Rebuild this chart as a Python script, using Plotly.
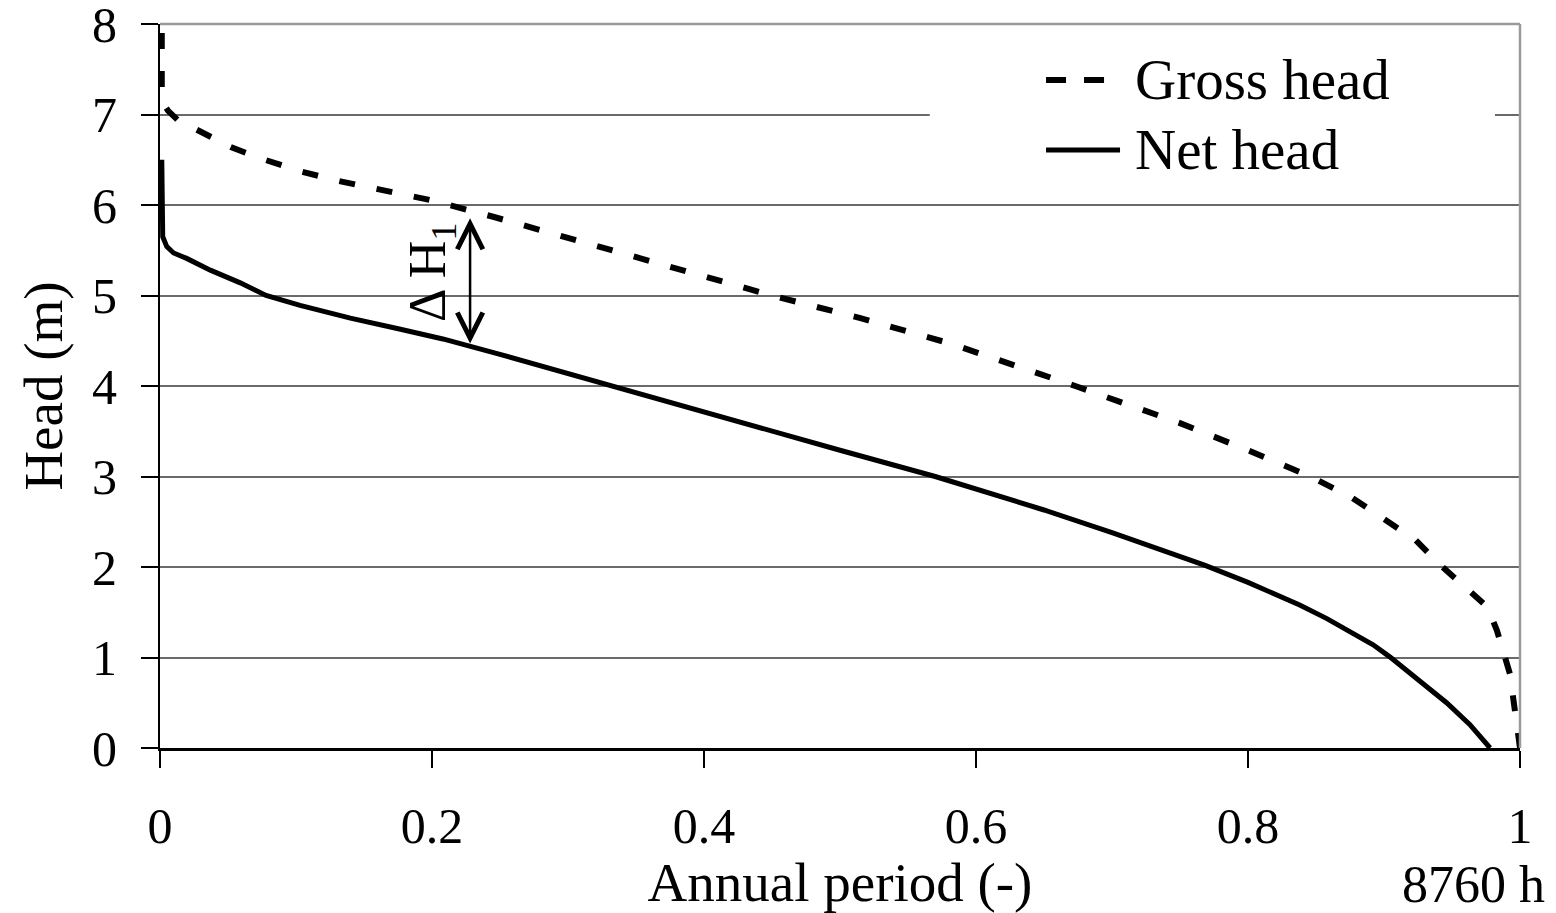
import plotly.graph_objects as go

# ---- data ----
gross_x = [0.0013, 0.0013, 0.0025, 0.006, 0.013, 0.029, 0.043, 0.052, 0.075, 0.104, 0.130,
           0.200, 0.245, 0.324, 0.397, 0.450, 0.515, 0.581, 0.673, 0.750, 0.800, 0.846,
           0.876, 0.899, 0.923, 0.943, 0.960, 0.976, 0.983, 0.988, 0.993, 0.995, 0.997,
           0.999, 1.000]
gross_y = [7.90, 7.30, 7.12, 7.04, 6.94, 6.82, 6.72, 6.64, 6.51, 6.37, 6.27,
           6.05, 5.87, 5.54, 5.23, 5.00, 4.75, 4.47, 4.00, 3.59, 3.29, 3.00,
           2.77, 2.54, 2.30, 2.00, 1.78, 1.56, 1.30, 1.05, 0.80, 0.55, 0.30,
           0.05, 0.00]

net_x = [0.0013, 0.0013, 0.002, 0.005, 0.010, 0.0196, 0.037, 0.059, 0.078, 0.103, 0.140,
         0.176, 0.208, 0.250, 0.290, 0.331, 0.400, 0.449, 0.500, 0.570, 0.600, 0.650,
         0.700, 0.735, 0.768, 0.800, 0.838, 0.858, 0.879, 0.892, 0.904, 0.926, 0.946,
         0.963, 0.978]
net_y = [6.50, 5.90, 5.65, 5.54, 5.47, 5.41, 5.28, 5.14, 5.00, 4.89, 4.75,
         4.63, 4.52, 4.35, 4.18, 4.00, 3.71, 3.50, 3.29, 3.00, 2.86, 2.63,
         2.38, 2.20, 2.02, 1.83, 1.58, 1.43, 1.26, 1.14, 1.01, 0.75, 0.50,
         0.26, 0.00]

x_ticks = [0, 0.2, 0.4, 0.6, 0.8, 1]
x_tick_text = ["0", "0.2", "0.4", "0.6", "0.8", "1"]
y_ticks = [0, 1, 2, 3, 4, 5, 6, 7, 8]

delta_x = 0.228          # position of the ΔH1 arrow
delta_lo, delta_hi = 4.47, 5.87

FONT = "Times New Roman, Liberation Serif, serif"

fig = go.Figure()
fig.add_trace(go.Scatter(x=gross_x, y=gross_y, mode="lines", name="Gross head",
                         line=dict(color="black", width=6, dash="16px,22px"),
                         showlegend=False))
fig.add_trace(go.Scatter(x=net_x, y=net_y, mode="lines", name="Net head",
                         line=dict(color="black", width=5), showlegend=False))

# manual legend (white box hides the grid line, as in the reference)
fig.add_shape(type="rect", xref="paper", yref="paper", x0=0.566, x1=0.9816, y0=0.771, y1=0.978,
              fillcolor="white", line=dict(width=0), layer="above")
fig.add_shape(type="line", xref="paper", yref="paper", x0=0.6515, x1=0.6949, y0=0.9227, y1=0.9227,
              line=dict(color="black", width=6, dash="20px,18px"), layer="above")
fig.add_shape(type="line", xref="paper", yref="paper", x0=0.6515, x1=0.7059, y0=0.826, y1=0.826,
              line=dict(color="black", width=5), layer="above")
fig.add_annotation(xref="paper", yref="paper", x=0.7154, y=0.9227, xanchor="left", yanchor="middle",
                   text="Gross head", showarrow=False, font=dict(family=FONT, size=57, color="black"))
fig.add_annotation(xref="paper", yref="paper", x=0.7154, y=0.826, xanchor="left", yanchor="middle",
                   text="Net head", showarrow=False, font=dict(family=FONT, size=57, color="black"))

# top and right borders (gray)
fig.add_shape(type="line", xref="paper", yref="paper", x0=0, x1=1, y0=1, y1=1,
              line=dict(color="#9a9a9a", width=2.5), layer="above")
fig.add_shape(type="line", xref="paper", yref="paper", x0=1, x1=1, y0=0, y1=1,
              line=dict(color="#9a9a9a", width=2.5), layer="above")

# ΔH1 double arrow and label
fig.add_annotation(x=delta_x, y=delta_lo, ax=delta_x, ay=delta_hi, xref="x", yref="y",
                   axref="x", ayref="y", text="", showarrow=True, arrowside="end+start",
                   arrowhead=5, startarrowhead=5, arrowwidth=2.5, arrowsize=2, startarrowsize=2,
                   arrowcolor="black")
fig.add_annotation(x=0.2, y=5.25, xref="x", yref="y", text="Δ H<sub>1</sub>", textangle=-90,
                   showarrow=False, font=dict(family=FONT, size=52, color="black"))

# "8760 h"
fig.add_annotation(xref="paper", yref="paper", x=1.0199, y=-0.189, xanchor="right", yanchor="middle",
                   text="8760 h", showarrow=False, font=dict(family=FONT, size=52, color="black"))

fig.update_layout(
    width=1556, height=913,
    margin=dict(l=160, r=36, t=24, b=165),
    paper_bgcolor="white", plot_bgcolor="white",
    font=dict(family=FONT, color="black"),
    showlegend=False,
    xaxis=dict(range=[0, 1], tickvals=x_ticks, ticktext=x_tick_text,
               showgrid=False, zeroline=False, showline=True, linecolor="black", linewidth=2.5,
               ticks="outside", ticklen=17, tickwidth=2, tickcolor="black",
               tickfont=dict(family=FONT, size=50, color="black"), ticklabelstandoff=15,
               ticklabeloverflow="allow",
               title=dict(text="Annual period (-)", font=dict(family=FONT, size=55, color="black"), standoff=20),
               automargin=False),
    yaxis=dict(range=[0, 8], tickvals=y_ticks, showgrid=True, gridcolor="#6a6a6a", gridwidth=1.5,
               zeroline=False, showline=True, linecolor="black", linewidth=2,
               ticks="outside", ticklen=17, tickwidth=2, tickcolor="black",
               tickfont=dict(family=FONT, size=50, color="black"), ticklabelstandoff=14,
               ticklabeloverflow="allow",
               title=dict(text="Head (m)", font=dict(family=FONT, size=55, color="black"), standoff=12),
               automargin=False),
)

fig.write_html("out.html")
